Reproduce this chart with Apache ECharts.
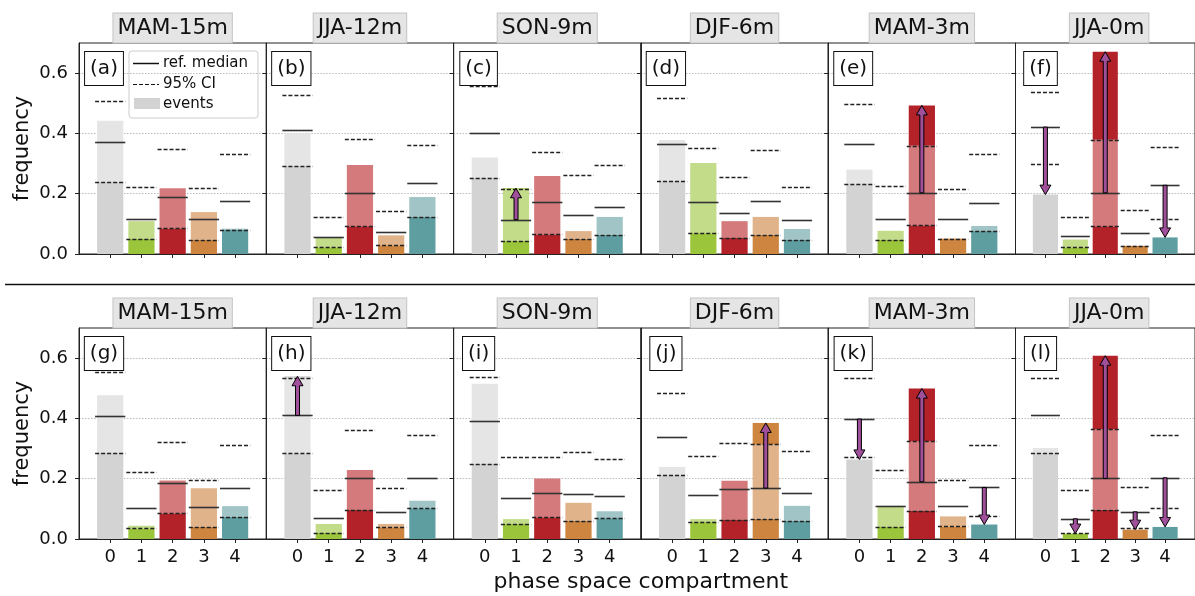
<!DOCTYPE html>
<html>
<head>
<meta charset="utf-8">
<script src="https://cdn.jsdelivr.net/npm/echarts@6/dist/echarts.min.js"></script>
<style>
html, body { margin: 0; padding: 0; background: #fff; }
#chart { width: 1195px; height: 596px; }
</style>
</head>
<body>
<div id="chart"></div>
<script>
// panel titles and labels, top row (a-f) then bottom row (g-l)
var panelTitles = ['MAM-15m', 'JJA-12m', 'SON-9m', 'DJF-6m', 'MAM-3m', 'JJA-0m',
                   'MAM-15m', 'JJA-12m', 'SON-9m', 'DJF-6m', 'MAM-3m', 'JJA-0m'];
var panelLabels = ['(a)', '(b)', '(c)', '(d)', '(e)', '(f)', '(g)', '(h)', '(i)', '(j)', '(k)', '(l)'];
var compartments = [0, 1, 2, 3, 4];
var yTicks = [0, 0.2, 0.4, 0.6];

// event frequency per compartment
var eventFreq = [
	[0.442, 0.109, 0.218, 0.139, 0.084],
	[0.400, 0.055, 0.295, 0.062, 0.189],
	[0.320, 0.218, 0.259, 0.076, 0.123],
	[0.378, 0.302, 0.109, 0.123, 0.083],
	[0.280, 0.077, 0.493, 0.051, 0.093],
	[0.197, 0.048, 0.671, 0.027, 0.055],
	[0.477, 0.044, 0.194, 0.168, 0.109],
	[0.540, 0.050, 0.229, 0.050, 0.127],
	[0.515, 0.066, 0.201, 0.120, 0.092],
	[0.239, 0.066, 0.193, 0.385, 0.110],
	[0.264, 0.110, 0.499, 0.075, 0.048],
	[0.302, 0.018, 0.608, 0.031, 0.040]
];
// reference median
var refMedian = [
	[0.373, 0.117, 0.189, 0.116, 0.176],
	[0.413, 0.056, 0.203, 0.074, 0.235],
	[0.402, 0.114, 0.172, 0.129, 0.155],
	[0.366, 0.171, 0.135, 0.176, 0.114],
	[0.365, 0.117, 0.203, 0.117, 0.170],
	[0.421, 0.059, 0.203, 0.071, 0.228],
	[0.409, 0.102, 0.187, 0.107, 0.170],
	[0.410, 0.069, 0.201, 0.090, 0.204],
	[0.391, 0.135, 0.152, 0.149, 0.141],
	[0.340, 0.146, 0.166, 0.169, 0.151],
	[0.398, 0.110, 0.190, 0.110, 0.171],
	[0.413, 0.067, 0.201, 0.090, 0.203]
];
// 95% CI lower bound
var ciLow = [
	[0.240, 0.050, 0.085, 0.048, 0.080],
	[0.293, 0.022, 0.092, 0.029, 0.123],
	[0.252, 0.044, 0.065, 0.051, 0.064],
	[0.242, 0.069, 0.053, 0.064, 0.048],
	[0.231, 0.048, 0.095, 0.051, 0.076],
	[0.299, 0.022, 0.092, 0.027, 0.116],
	[0.285, 0.035, 0.085, 0.041, 0.074],
	[0.284, 0.020, 0.096, 0.039, 0.102],
	[0.250, 0.050, 0.072, 0.061, 0.069],
	[0.212, 0.056, 0.063, 0.067, 0.061],
	[0.272, 0.040, 0.093, 0.042, 0.075],
	[0.286, 0.020, 0.097, 0.036, 0.102]
];
// 95% CI upper bound
var ciHigh = [
	[0.508, 0.221, 0.347, 0.220, 0.331],
	[0.528, 0.124, 0.380, 0.144, 0.360],
	[0.559, 0.215, 0.337, 0.263, 0.296],
	[0.519, 0.352, 0.255, 0.346, 0.221],
	[0.498, 0.227, 0.359, 0.215, 0.331],
	[0.537, 0.122, 0.379, 0.145, 0.355],
	[0.554, 0.223, 0.322, 0.197, 0.312],
	[0.535, 0.162, 0.362, 0.169, 0.344],
	[0.539, 0.273, 0.271, 0.287, 0.265],
	[0.484, 0.277, 0.317, 0.314, 0.293],
	[0.534, 0.230, 0.324, 0.197, 0.313],
	[0.535, 0.161, 0.364, 0.171, 0.344]
];

var darkColors = ['#d3d3d3', '#9bc63b', '#b22228', '#cd853f', '#5f9ea0'];
var lightColors = ['#e5e5e5', '#c3dc8a', '#d47a7c', '#e0b38a', '#a1c5c6'];
var arrowColor = '#a0509b';
var FONT = '"DejaVu Sans", sans-serif';

var panelLeft = 79, panelWidth = 187.3, panelHeight = 211;
var rowTop = [43, 328];

// bars: dark outside the CI, light inside it
function renderBars(params, api) {
	var x = api.value(0), v = api.value(1), lo = api.value(2), hi = api.value(4);
	var w = api.size([1, 0])[0] * 0.84;
	var kids = [];
	function seg(a, b, color) {
		if (b <= a) return;
		var p0 = api.coord([x, a]), p1 = api.coord([x, b]);
		kids.push({
			type: 'rect',
			shape: { x: p0[0] - w / 2, y: p1[1], width: w, height: p0[1] - p1[1] },
			style: { fill: color }
		});
	}
	seg(0, Math.min(v, lo), darkColors[x]);
	seg(lo, Math.min(v, hi), lightColors[x]);
	seg(hi, v, darkColors[x]);
	return { type: 'group', children: kids };
}

// median / CI lines, plus arrow when the events leave the CI
function renderRefs(params, api) {
	var x = api.value(0), v = api.value(1), lo = api.value(2), med = api.value(3), hi = api.value(4);
	var half = api.size([1, 0])[0] * 0.5;
	var c = api.coord([x, 0])[0];
	function hline(val, dashed) {
		var y = Math.round(api.coord([x, val])[1]) + 0.5;
		return {
			type: 'line',
			shape: { x1: c - half + 0.5, y1: y, x2: c + half - 0.5, y2: y },
			style: { stroke: dashed ? '#222' : '#333', lineWidth: dashed ? 1.3 : 1.6, lineDash: dashed ? [4, 2] : null }
		};
	}
	var kids = [hline(hi, true), hline(lo, true), hline(med, false)];
	if (v > hi || v < lo) {
		var y0 = api.coord([x, med])[1], y1 = api.coord([x, v])[1];
		var dir = y1 < y0 ? -1 : 1;
		var hl = 9.5, hw = 5.5, sw = 2;
		var yb = y1 - dir * hl;
		kids.push({
			type: 'polygon',
			shape: { points: [[c - sw, y0], [c - sw, yb], [c - hw, yb], [c, y1], [c + hw, yb], [c + sw, yb], [c + sw, y0]] },
			style: { fill: arrowColor, stroke: '#000', lineWidth: 1 }
		});
	}
	return { type: 'group', children: kids };
}

var grids = [], xAxes = [], yAxes = [], series = [], graphics = [];
for (var p = 0; p < 12; p++) {
	var row = Math.floor(p / 6), col = p % 6;
	var left = panelLeft + col * panelWidth;
	grids.push({
		left: left, top: rowTop[row], width: panelWidth, height: panelHeight,
		show: true, borderColor: '#222', borderWidth: 1, backgroundColor: 'transparent'
	});
	xAxes.push({
		type: 'value', gridIndex: p, min: -1, max: 5, interval: 1,
		splitLine: { show: false },
		axisLine: { show: true, onZero: false, lineStyle: { color: '#222', width: 1 } },
		axisTick: { show: true, length: 4, customValues: compartments, lineStyle: { color: '#222' } },
		axisLabel: {
			show: row == 1, customValues: compartments, fontSize: 18, color: '#111',
			fontFamily: FONT, margin: 9
		}
	});
	yAxes.push({
		type: 'value', gridIndex: p, min: 0, max: 0.7, interval: 0.2,
		splitLine: { show: true, lineStyle: { color: '#aaa', width: 0.8, type: [1.5, 1.5] } },
		axisLine: { show: true, onZero: false, lineStyle: { color: '#222', width: 1 } },
		axisTick: { show: true, length: 4, customValues: yTicks, lineStyle: { color: '#222' } },
		axisLabel: {
			show: col == 0, customValues: yTicks, fontSize: 18, color: '#111', fontFamily: FONT, margin: 11,
			formatter: function (val) { return val.toFixed(1); }
		}
	});
	var data = compartments.map(function (k, j) {
		return [k, eventFreq[p][j], ciLow[p][j], refMedian[p][j], ciHigh[p][j]];
	});
	series.push({
		type: 'custom', xAxisIndex: p, yAxisIndex: p, z: 2, silent: true,
		renderItem: renderBars, data: data, encode: { x: 0, y: 1 }
	});
	series.push({
		type: 'custom', xAxisIndex: p, yAxisIndex: p, z: 3, silent: true,
		renderItem: renderRefs, data: data, encode: { x: 0, y: 1 }
	});
	// boxed title above the panel
	graphics.push({
		type: 'text', x: left + panelWidth / 2, y: rowTop[row] - 15, z: 10,
		style: {
			text: panelTitles[p], font: '22px ' + FONT, fill: '#111', align: 'center', verticalAlign: 'middle',
			lineHeight: 26, backgroundColor: '#e5e5e5', borderColor: '#c4c4c4', borderWidth: 1, padding: [2, 4, 1, 4]
		}
	});
	// panel letter
	graphics.push({
		type: 'text', x: left + 25, y: rowTop[row] + 25.5, z: 10,
		style: {
			text: panelLabels[p], font: '20px ' + FONT, fill: '#111', align: 'center', verticalAlign: 'middle',
			lineHeight: 25, backgroundColor: '#fff', borderColor: '#111', borderWidth: 1, padding: [4, 5, 4, 5]
		}
	});
}

// y axis names
for (var r = 0; r < 2; r++) {
	graphics.push({
		type: 'text', x: 23, y: rowTop[r] + panelHeight / 2, rotation: Math.PI / 2, z: 10,
		style: { text: 'frequency', font: '21px ' + FONT, fill: '#111', align: 'center', verticalAlign: 'middle' }
	});
}
// x axis name
graphics.push({
	type: 'text', x: panelLeft + 3 * panelWidth, y: 582, z: 10,
	style: { text: 'phase space compartment', font: '22px ' + FONT, fill: '#111', align: 'center', verticalAlign: 'middle' }
});
// separator between the rows
graphics.push({
	type: 'line', z: 10,
	shape: { x1: 5, y1: 284.5, x2: 1195, y2: 284.5 },
	style: { stroke: '#111', lineWidth: 1.5 }
});
// legend in panel (a)
graphics.push({
	type: 'group', x: 129, y: 51, z: 20,
	children: [
		{ type: 'rect', shape: { x: 0, y: 0, width: 129, height: 67, r: 3 }, style: { fill: 'rgba(255,255,255,0.85)', stroke: '#ccc', lineWidth: 1 } },
		{ type: 'line', shape: { x1: 4, y1: 12.5, x2: 30, y2: 12.5 }, style: { stroke: '#111', lineWidth: 1.5 } },
		{ type: 'text', x: 34, y: 12.5, style: { text: 'ref. median', font: '15px ' + FONT, fill: '#111', verticalAlign: 'middle' } },
		{ type: 'line', shape: { x1: 4, y1: 33.5, x2: 30, y2: 33.5 }, style: { stroke: '#111', lineWidth: 1.2, lineDash: [4, 2] } },
		{ type: 'text', x: 34, y: 33.5, style: { text: '95% CI', font: '15px ' + FONT, fill: '#111', verticalAlign: 'middle' } },
		{ type: 'rect', shape: { x: 5, y: 47, width: 26, height: 11 }, style: { fill: '#d3d3d3' } },
		{ type: 'text', x: 34, y: 53, style: { text: 'events', font: '15px ' + FONT, fill: '#111', verticalAlign: 'middle' } }
	]
});

var chart = echarts.init(document.getElementById('chart'));
chart.setOption({
	animation: false,
	backgroundColor: '#fff',
	textStyle: { fontFamily: FONT },
	grid: grids,
	xAxis: xAxes,
	yAxis: yAxes,
	series: series,
	graphic: graphics
});
</script>
</body>
</html>
